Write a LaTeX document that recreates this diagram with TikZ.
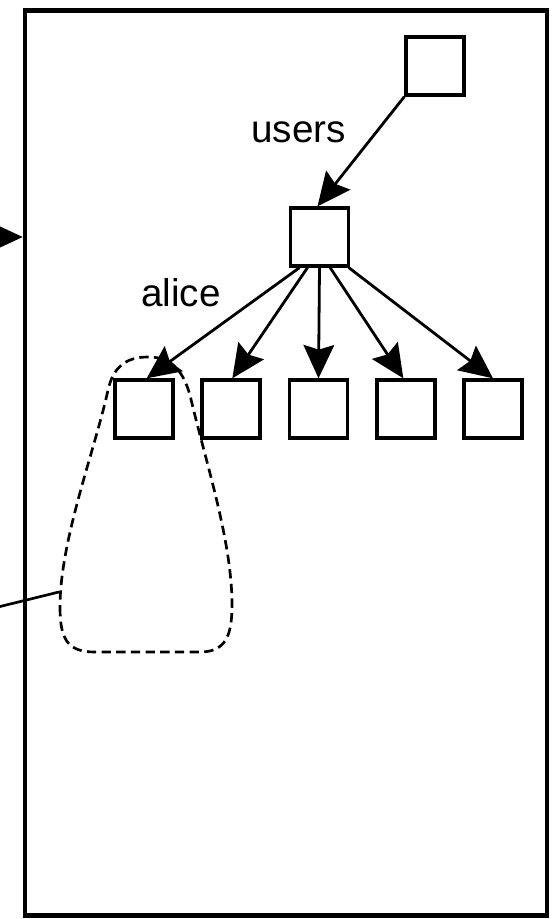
\documentclass[tikz,border=0pt]{standalone}
\usepackage{fontspec}
\setmainfont{Liberation Sans}
\usetikzlibrary{arrows.meta}
\begin{document}
\begin{tikzpicture}[x=0.75pt,y=-0.75pt,
  nodebox/.style={draw,line width=2.5pt,minimum size=43.5pt,inner sep=0pt,fill=white},
  link/.style={line width=2.1pt,-{Stealth[length=25pt,width=23pt,inset=3.5pt]}},
  lbl/.style={font=\fontsize{29}{34}\selectfont,anchor=base,inner sep=0pt},
  region/.style={line width=2pt,dash pattern=on 7pt off 4pt}]
\useasboundingbox (0,0) rectangle (554,919);
\node[draw,line width=3.4pt,minimum width=522*0.75pt,minimum height=905*0.75pt,inner sep=0pt] (frame) at (286,463) {};
\node[nodebox] (top) at (435,66) {};
\node[nodebox] (mid) at (319.5,237) {};
\node[nodebox] (c1) at (144,409) {};
\node[nodebox] (c2) at (231,409) {};
\node[nodebox] (c3) at (318.5,409) {};
\node[nodebox] (c4) at (406,409) {};
\node[nodebox] (c5) at (493,409) {};
\node[lbl] (users) at (298.5,143) {users};
\node[lbl] (alice) at (181,307) {alice};
\draw[link] (top.south west) -- ([xshift=-1.5pt]mid.north);
\draw[link] ([xshift=-15pt]mid.south) -- ([xshift=2pt]c1.north);
\draw[link] ([xshift=-9pt]mid.south) -- ([xshift=1pt]c2.north);
\draw[link] (mid.south) -- (c3.north);
\draw[link] ([xshift=8pt]mid.south) -- ([xshift=-2pt]c4.north);
\draw[link] ([xshift=-1pt]mid.south east) -- (c5.north);
\draw[region] (60,607) .. controls (60,640) and (68,652) .. (95,652) -- (200,652)
  .. controls (226,652) and (232,635) .. (232,605)
  .. controls (232,540) and (205,460) .. (190,395)
  .. controls (182,368) and (170,357) .. (148,357)
  .. controls (125,357) and (113,368) .. (108,390)
  .. controls (95,450) and (60,540) .. (60,607) -- cycle;
\coordinate (inL) at (-2,237);
\draw[link] (inL) -- (frame.west |- inL);
\coordinate (outL) at (-2,607);
\coordinate (regL) at (59,592);
\draw[line width=2pt] (outL) -- (regL);
\end{tikzpicture}
\end{document}
